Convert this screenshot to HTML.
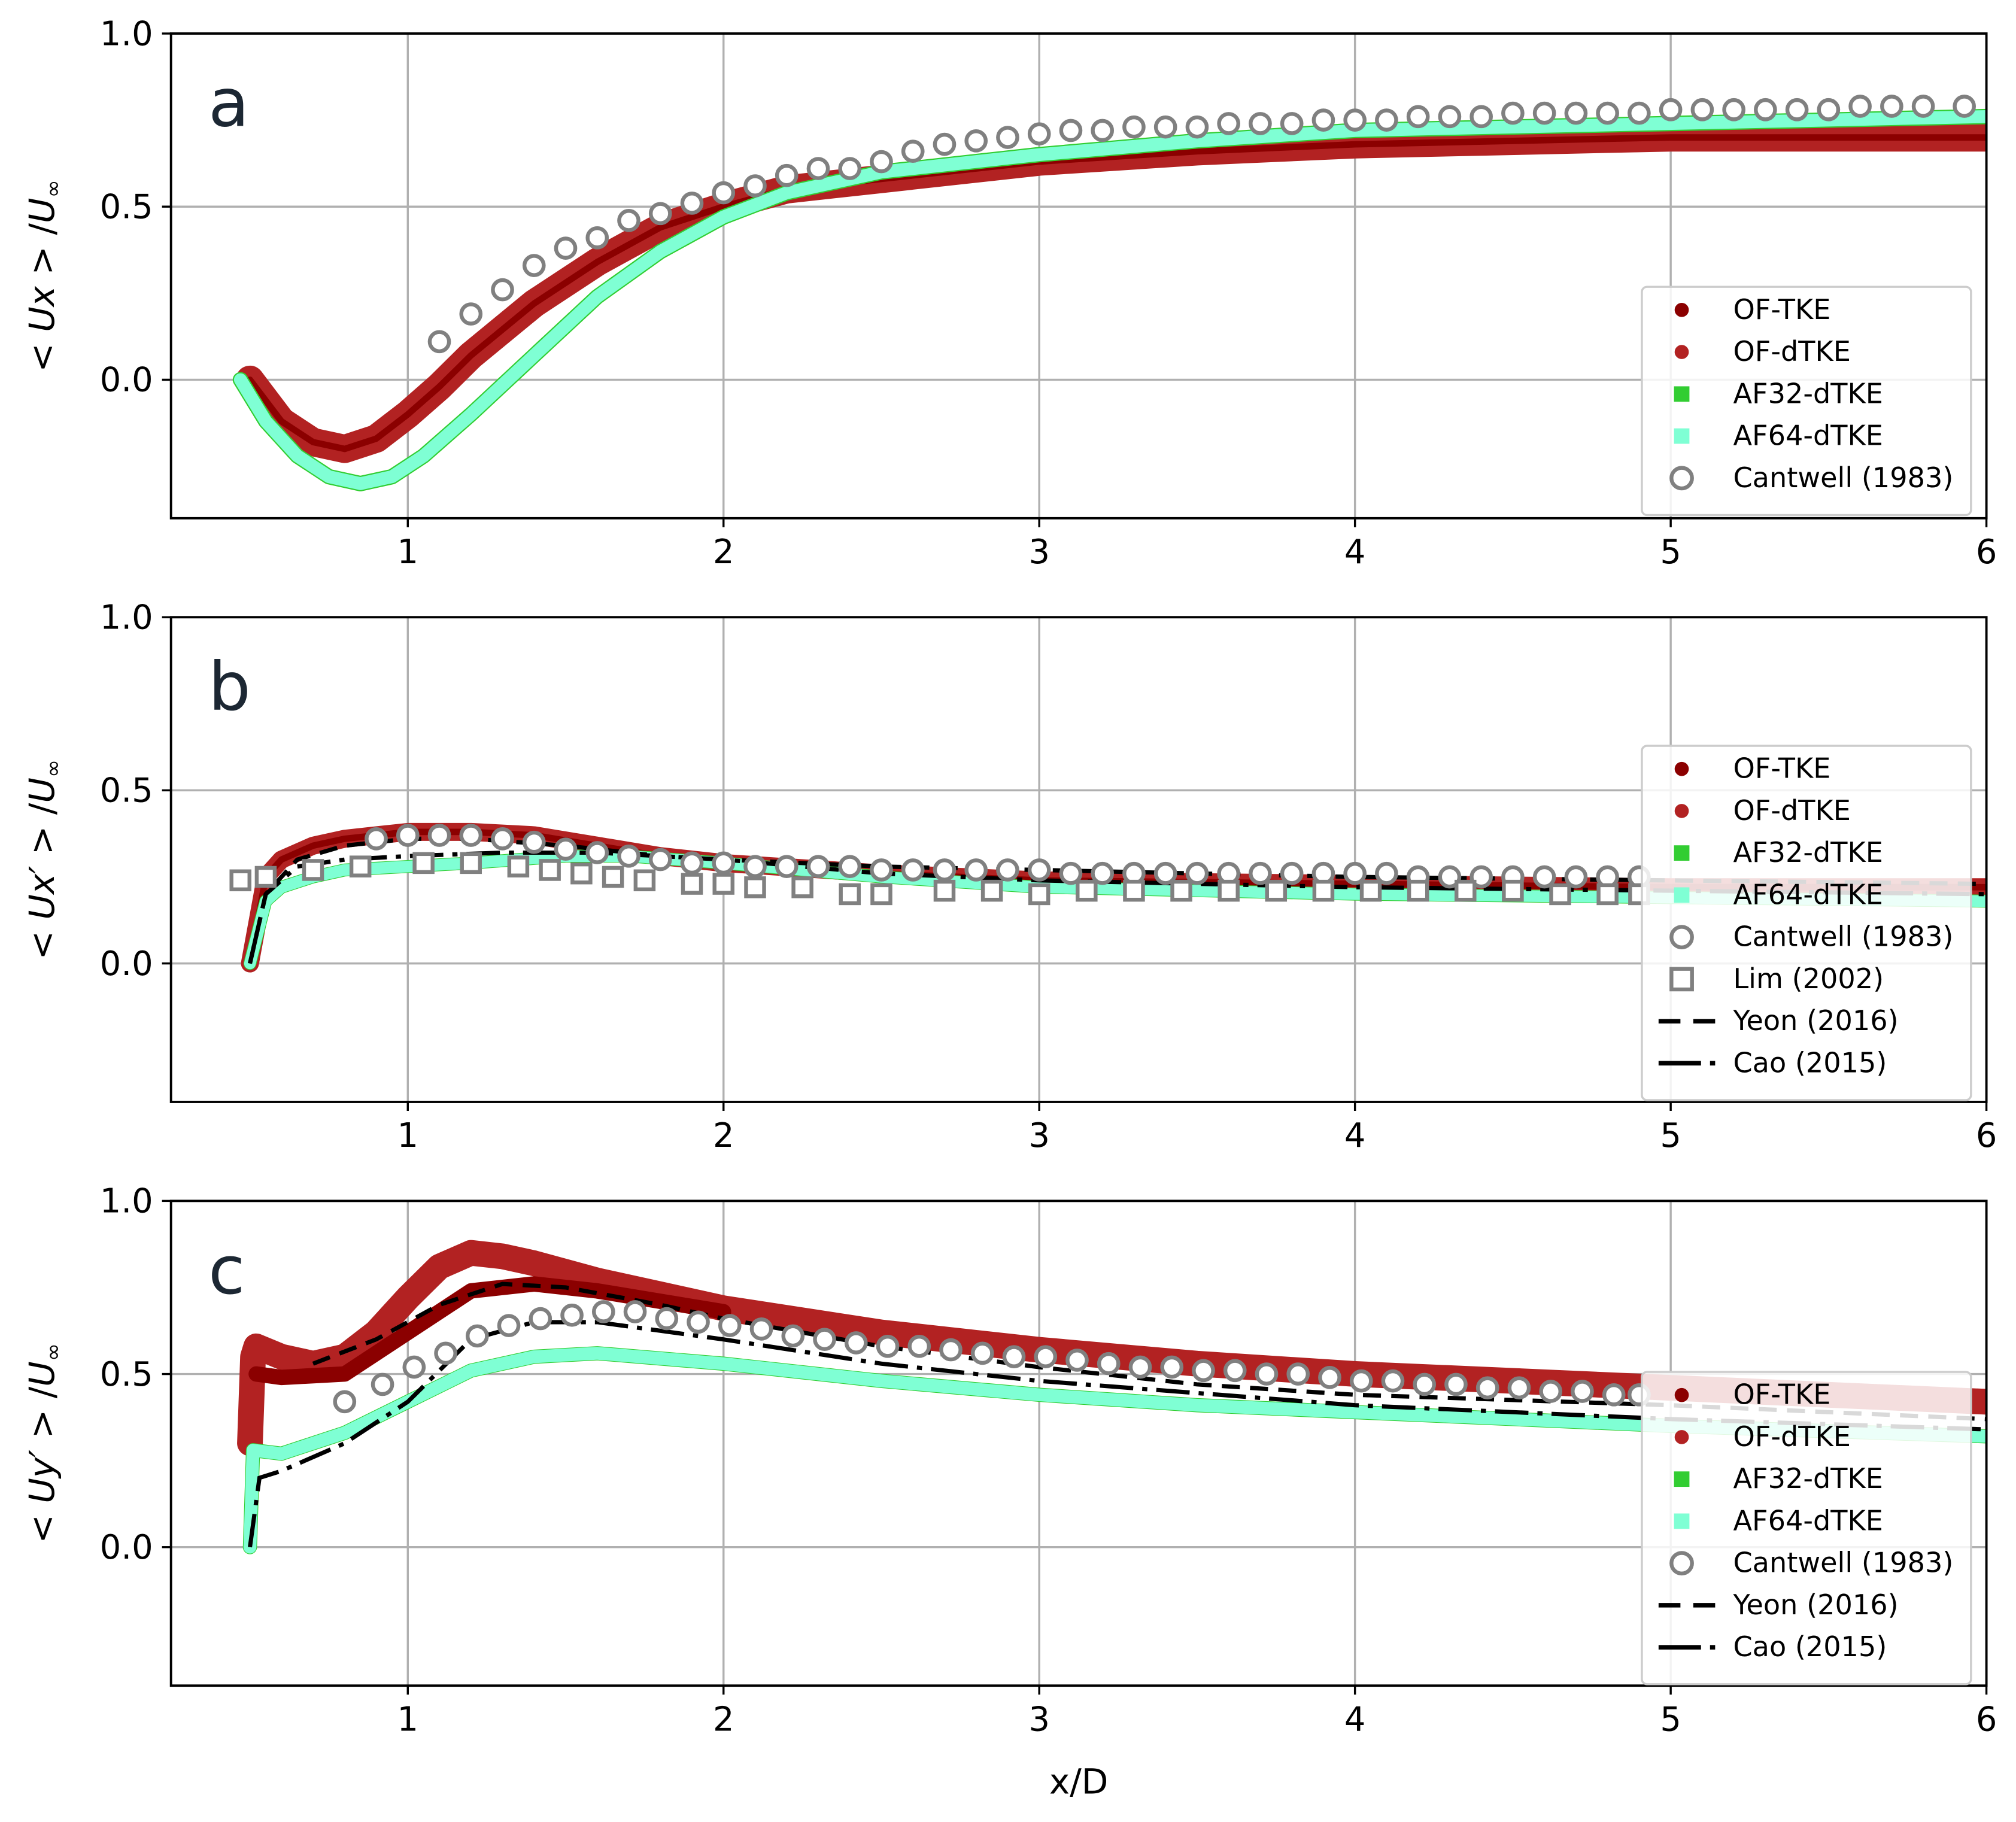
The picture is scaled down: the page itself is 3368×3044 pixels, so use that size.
<!DOCTYPE html>
<html><head><meta charset="utf-8"><style>
html,body{margin:0;padding:0;background:#fff;}
svg{display:block;font-family:"DejaVu Sans","Liberation Sans",sans-serif;}
</style></head><body>
<svg id="fig" xmlns="http://www.w3.org/2000/svg" width="3368" height="3044" viewBox="0 0 1568 1417"></svg>
<script>
// ---------- data ----------
const xTicks = [1,2,3,4,5,6];
const yTicks = [0.0,0.5,1.0];
const yTickLabels = ["0.0","0.5","1.0"];
// panel a
const aOFdX = [0.5,0.6,0.7,0.8,0.9,1.0,1.1,1.2,1.4,1.6,1.8,2.0,2.2,2.5,3.0,3.5,4.0,5.0,6.0];
const aOFdY = [0,-0.12,-0.18,-0.2,-0.17,-0.1,-0.02,0.07,0.22,0.34,0.44,0.5,0.55,0.58,0.63,0.66,0.68,0.7,0.7];
const aAFX = [0.47,0.55,0.65,0.75,0.85,0.95,1.05,1.2,1.4,1.6,1.8,2.0,2.2,2.5,3.0,3.5,4.0,5.0,6.0];
const aAFY = [0,-0.12,-0.22,-0.28,-0.3,-0.28,-0.22,-0.1,0.07,0.24,0.37,0.47,0.54,0.6,0.65,0.69,0.72,0.74,0.76];
const aCantX = [1.1,1.2,1.3,1.4,1.5,1.6,1.7,1.8,1.9,2.0,2.1,2.2,2.3,2.4,2.5,2.6,2.7,2.8,2.9,3.0,3.1,3.2,3.3,3.4,3.5,3.6,3.7,3.8,3.9,4.0,4.1,4.2,4.3,4.4,4.5,4.6,4.7,4.8,4.9,5.0,5.1,5.2,5.3,5.4,5.5,5.6,5.7,5.8,5.93];
const aCantY = [0.11,0.19,0.26,0.33,0.38,0.41,0.46,0.48,0.51,0.54,0.56,0.59,0.61,0.61,0.63,0.66,0.68,0.69,0.70,0.71,0.72,0.72,0.73,0.73,0.73,0.74,0.74,0.74,0.75,0.75,0.75,0.76,0.76,0.76,0.77,0.77,0.77,0.77,0.77,0.78,0.78,0.78,0.78,0.78,0.78,0.79,0.79,0.79,0.79];
// panel b
const bOFdX = [0.5,0.55,0.6,0.7,0.8,1.0,1.2,1.4,1.6,1.8,2.0,2.5,3.0,4.0,5.0,6.0];
const bOFdY = [0,0.25,0.3,0.34,0.36,0.38,0.38,0.37,0.34,0.31,0.29,0.26,0.24,0.23,0.22,0.22];
const bAFX = [0.5,0.55,0.6,0.7,0.8,1.0,1.2,1.5,1.7,2.0,2.5,3.0,4.0,5.0,6.0];
const bAFY = [0,0.18,0.22,0.25,0.27,0.28,0.29,0.31,0.31,0.29,0.25,0.22,0.2,0.19,0.18];
const bCantX = [0.9,1.0,1.1,1.2,1.3,1.4,1.5,1.6,1.7,1.8,1.9,2.0,2.1,2.2,2.3,2.4,2.5,2.6,2.7,2.8,2.9,3.0,3.1,3.2,3.3,3.4,3.5,3.6,3.7,3.8,3.9,4.0,4.1,4.2,4.3,4.4,4.5,4.6,4.7,4.8,4.9];
const bCantY = [0.36,0.37,0.37,0.37,0.36,0.35,0.33,0.32,0.31,0.30,0.29,0.29,0.28,0.28,0.28,0.28,0.27,0.27,0.27,0.27,0.27,0.27,0.26,0.26,0.26,0.26,0.26,0.26,0.26,0.26,0.26,0.26,0.26,0.25,0.25,0.25,0.25,0.25,0.25,0.25,0.25];
const bLimX = [0.47,0.55,0.7,0.85,1.05,1.2,1.35,1.45,1.55,1.65,1.75,1.9,2.0,2.1,2.25,2.4,2.5,2.7,2.85,3.0,3.15,3.3,3.45,3.6,3.75,3.9,4.05,4.2,4.35,4.5,4.65,4.8,4.9];
const bLimY = [0.24,0.25,0.27,0.28,0.29,0.29,0.28,0.27,0.26,0.25,0.24,0.23,0.23,0.22,0.22,0.2,0.2,0.21,0.21,0.2,0.21,0.21,0.21,0.21,0.21,0.21,0.21,0.21,0.21,0.21,0.2,0.2,0.2];
const bYeonX = [0.5,0.55,0.65,0.8,1.0,1.2,1.5,1.8,2.0,2.5,3.0,4.0,5.0,6.0];
const bYeonY = [0,0.2,0.3,0.34,0.36,0.36,0.34,0.31,0.3,0.28,0.27,0.25,0.24,0.23];
const bCaoX = [0.5,0.55,0.65,0.8,1.0,1.3,1.6,2.0,2.5,3.0,4.0,5.0,6.0];
const bCaoY = [0,0.2,0.28,0.3,0.31,0.32,0.32,0.3,0.26,0.24,0.22,0.21,0.2];
// panel c
const cOFdX = [0.5,0.51,0.52,0.6,0.7,0.8,0.9,1.0,1.1,1.2,1.3,1.4,1.6,1.8,2.0,2.5,3.0,3.5,4.0,5.0,6.0];
const cOFdY = [0.3,0.55,0.58,0.55,0.53,0.55,0.62,0.72,0.81,0.85,0.84,0.82,0.77,0.73,0.69,0.62,0.57,0.53,0.5,0.46,0.42];
const cOFtX = [0.52,0.6,0.8,1.0,1.2,1.4,1.6,2.0];
const cOFtY = [0.5,0.49,0.5,0.62,0.74,0.76,0.74,0.68];
const cAFX = [0.5,0.51,0.6,0.8,1.0,1.2,1.4,1.6,2.0,2.5,3.0,3.5,4.0,5.0,6.0];
const cAFY = [0,0.28,0.27,0.33,0.42,0.51,0.55,0.56,0.53,0.48,0.44,0.41,0.39,0.35,0.32];
const cYeonX = [0.7,0.9,1.1,1.3,1.5,1.8,2.0,2.5,3.0,3.5,4.0,5.0,6.0];
const cYeonY = [0.53,0.6,0.7,0.76,0.75,0.7,0.66,0.58,0.52,0.47,0.44,0.41,0.37];
const cCaoX = [0.5,0.53,0.6,0.8,1.0,1.2,1.4,1.6,2.0,2.5,3.0,4.0,5.0,6.0];
const cCaoY = [0,0.2,0.22,0.3,0.42,0.6,0.65,0.65,0.6,0.53,0.48,0.41,0.37,0.34];
const cCantX = [0.8,0.92,1.02,1.12,1.22,1.32,1.42,1.52,1.62,1.72,1.82,1.92,2.02,2.12,2.22,2.32,2.42,2.52,2.62,2.72,2.82,2.92,3.02,3.12,3.22,3.32,3.42,3.52,3.62,3.72,3.82,3.92,4.02,4.12,4.22,4.32,4.42,4.52,4.62,4.72,4.82,4.9];
const cCantY = [0.42,0.47,0.52,0.56,0.61,0.64,0.66,0.67,0.68,0.68,0.66,0.65,0.64,0.63,0.61,0.60,0.59,0.58,0.58,0.57,0.56,0.55,0.55,0.54,0.53,0.52,0.52,0.51,0.51,0.50,0.50,0.49,0.48,0.48,0.47,0.47,0.46,0.46,0.45,0.45,0.44,0.44];

// ---------- drawing ----------
const NS="http://www.w3.org/2000/svg";
const svg=document.getElementById('fig');
function el(tag,attrs,parent){const e=document.createElementNS(NS,tag);for(const k in attrs)e.setAttribute(k,attrs[k]);(parent||svg).appendChild(e);return e;}
const L=133,R=1545,X0=0.25,X1=6.0,Y0=-0.4,Y1=1.0;
function sx(v){return L+(v-X0)/(X1-X0)*(R-L);}
function makeY(top,bot){return v=>bot-(v-Y0)/(Y1-Y0)*(bot-top);}
function pts(xs,ys,fy){return xs.map((x,i)=>sx(x).toFixed(1)+','+fy(ys[i]).toFixed(1)).join(' ');}
const C={oft:'#8b0000',ofd:'#b22222',af32:'#32cd32',af64:'#7fffd4',gray:'#808080'};

function band(g,xs,ys,fy,color,w,name){
  const p=el('polyline',{points:pts(xs,ys,fy),fill:'none',stroke:color,'stroke-width':w,'stroke-linejoin':'round','stroke-linecap':'round'},g);
  
  
}
function line(g,xs,ys,fy,dash,name){
  const p=el('polyline',{points:pts(xs,ys,fy),fill:'none',stroke:'#000','stroke-width':3.3,'stroke-dasharray':dash},g);
  
  
}
function circles(g,xs,ys,fy,name){
  xs.forEach((x,i)=>{const c=el('circle',{cx:sx(x),cy:fy(ys[i]),r:7.5,fill:'#fff',stroke:C.gray,'stroke-width':3},g);
    
    });
}
function squares(g,xs,ys,fy,name){
  xs.forEach((x,i)=>{const c=el('rect',{x:sx(x)-7,y:fy(ys[i])-7,width:14,height:14,fill:'#fff',stroke:C.gray,'stroke-width':3},g);
    
    });
}

function axes(top,bot,letter,ylabelHTML,showXLabel){
  const g=el('g',{});
  
  
  const fy=makeY(top,bot);
  xTicks.forEach(t=>{el('line',{x1:sx(t),x2:sx(t),y1:top,y2:bot,stroke:'#b0b0b0','stroke-width':1.6},g);
    el('line',{x1:sx(t),x2:sx(t),y1:bot,y2:bot+7,stroke:'#000','stroke-width':1.6},g);
    const tx=el('text',{x:sx(t),y:bot+35,'font-size':26,'text-anchor':'middle'},g);tx.textContent=t;
    
    });
  yTicks.forEach((t,i)=>{el('line',{x1:L,x2:R,y1:fy(t),y2:fy(t),stroke:'#b0b0b0','stroke-width':1.6},g);
    el('line',{x1:L-7,x2:L,y1:fy(t),y2:fy(t),stroke:'#000','stroke-width':1.6},g);
    const tx=el('text',{x:L-14,y:fy(t)+9,'font-size':26,'text-anchor':'end'},g);tx.textContent=yTickLabels[i];
    
    });
  const lt=el('text',{x:162,y:top+72,'font-size':52,fill:'#1c2733'},g);lt.textContent=letter;
  
  
  const yl=el('text',{x:0,y:0,'font-size':27,'text-anchor':'middle',transform:`translate(42,${(top+bot)/2}) rotate(-90)`},g);
  yl.innerHTML=ylabelHTML;
  
  
  if(showXLabel){const xl=el('text',{x:(L+R)/2,y:bot+84,'font-size':27,'text-anchor':'middle'},svg);xl.textContent='x/D';
    
    }
  const cp=el('clipPath',{id:'clip-'+letter},svg);el('rect',{x:L,y:top,width:R-L,height:bot-top},cp);
  const cg=el('g',{'clip-path':'url(#clip-'+letter+')'},g);
  return {g:cg,fy,outer:g,top,bot};
}
function frame(p){el('rect',{x:L,y:p.top,width:R-L,height:p.bot-p.top,fill:'none',stroke:'#000','stroke-width':1.8},p.outer);}
function legend(p,x,y,entries){
  const g=el('g',{},p.outer);
  
  
  el('rect',{x:x,y:y,width:256,height:entries.length*32.7+14,rx:4,fill:'#fff','fill-opacity':0.85,stroke:'#ccc','stroke-width':1.6},g);
  entries.forEach((e,i)=>{const cy=y+18+i*32.7; const mx=x+31;
    const eg=el('g',{},g);
    
    
    if(e.t==='dot')el('circle',{cx:mx,cy:cy,r:5.5,fill:e.c},eg);
    if(e.t==='sq')el('rect',{x:mx-6,y:cy-6,width:12,height:12,fill:e.c},eg);
    if(e.t==='circ')el('circle',{cx:mx,cy:cy,r:8,fill:'#fff',stroke:C.gray,'stroke-width':3},eg);
    if(e.t==='osq')el('rect',{x:mx-8,y:cy-8,width:16,height:16,fill:'#fff',stroke:C.gray,'stroke-width':3},eg);
    if(e.t==='dash')el('line',{x1:x+13,x2:x+57,y1:cy,y2:cy,stroke:'#000','stroke-width':3.5,'stroke-dasharray':'17,10'},eg);
    if(e.t==='dashdot')el('line',{x1:x+13,x2:x+57,y1:cy,y2:cy,stroke:'#000','stroke-width':3.5,'stroke-dasharray':'33,7,4,7'},eg);
    const t=el('text',{x:x+71,y:cy+7,'font-size':21.5},eg);t.textContent=e.l;});
}
const baseLeg=[{t:'dot',c:C.oft,l:'OF-TKE'},{t:'dot',c:C.ofd,l:'OF-dTKE'},{t:'sq',c:C.af32,l:'AF32-dTKE'},{t:'sq',c:C.af64,l:'AF64-dTKE'},{t:'circ',l:'Cantwell (1983)'}];
const SUB='<tspan font-size="17" dy="5">\u221E</tspan>';

// panel a
let p=axes(26,403,'a','&lt; <tspan font-style="italic">Ux</tspan> &gt; /<tspan font-style="italic">U</tspan>'+SUB,false);
band(p.g,aOFdX,aOFdY,p.fy,C.ofd,22,'of-dtke-series');
band(p.g,aOFdX,aOFdY,p.fy,C.oft,5,'of-tke-series');
band(p.g,aAFX,aAFY,p.fy,C.af32,12,'af32-dtke-series');
band(p.g,aAFX,aAFY,p.fy,C.af64,10,'af64-dtke-series');
circles(p.g,aCantX,aCantY,p.fy,'cantwell-point');
frame(p);
legend(p,1277,223,baseLeg);

// panel b
p=axes(480,857,'b','&lt; <tspan font-style="italic">Ux\u2032</tspan> &gt; /<tspan font-style="italic">U</tspan>'+SUB,false);
band(p.g,bOFdX,bOFdY,p.fy,C.ofd,14,'of-dtke-series');
band(p.g,bOFdX,bOFdY,p.fy,C.oft,5,'of-tke-series');
band(p.g,bAFX,bAFY,p.fy,C.af32,10,'af32-dtke-series');
band(p.g,bAFX,bAFY,p.fy,C.af64,9,'af64-dtke-series');
line(p.g,bYeonX,bYeonY,p.fy,'14,8','yeon-line');
line(p.g,bCaoX,bCaoY,p.fy,'26,7,4,7','cao-line');
circles(p.g,bCantX,bCantY,p.fy,'cantwell-point');
squares(p.g,bLimX,bLimY,p.fy,'lim-point');
frame(p);
legend(p,1277,580,baseLeg.concat([{t:'osq',l:'Lim (2002)'},{t:'dash',l:'Yeon (2016)'},{t:'dashdot',l:'Cao (2015)'}]));

// panel c
p=axes(934,1311,'c','&lt; <tspan font-style="italic">Uy\u2032</tspan> &gt; /<tspan font-style="italic">U</tspan>'+SUB,true);
band(p.g,cOFdX,cOFdY,p.fy,C.ofd,20,'of-dtke-series');
band(p.g,cOFtX,cOFtY,p.fy,C.oft,12,'of-tke-series');
band(p.g,cAFX,cAFY,p.fy,C.af32,11,'af32-dtke-series');
band(p.g,cAFX,cAFY,p.fy,C.af64,10,'af64-dtke-series');
line(p.g,cYeonX,cYeonY,p.fy,'14,8','yeon-line');
line(p.g,cCaoX,cCaoY,p.fy,'26,7,4,7','cao-line');
circles(p.g,cCantX,cCantY,p.fy,'cantwell-point');
frame(p);
legend(p,1277,1067,baseLeg.concat([{t:'dash',l:'Yeon (2016)'},{t:'dashdot',l:'Cao (2015)'}]));
</script>
</body></html>
